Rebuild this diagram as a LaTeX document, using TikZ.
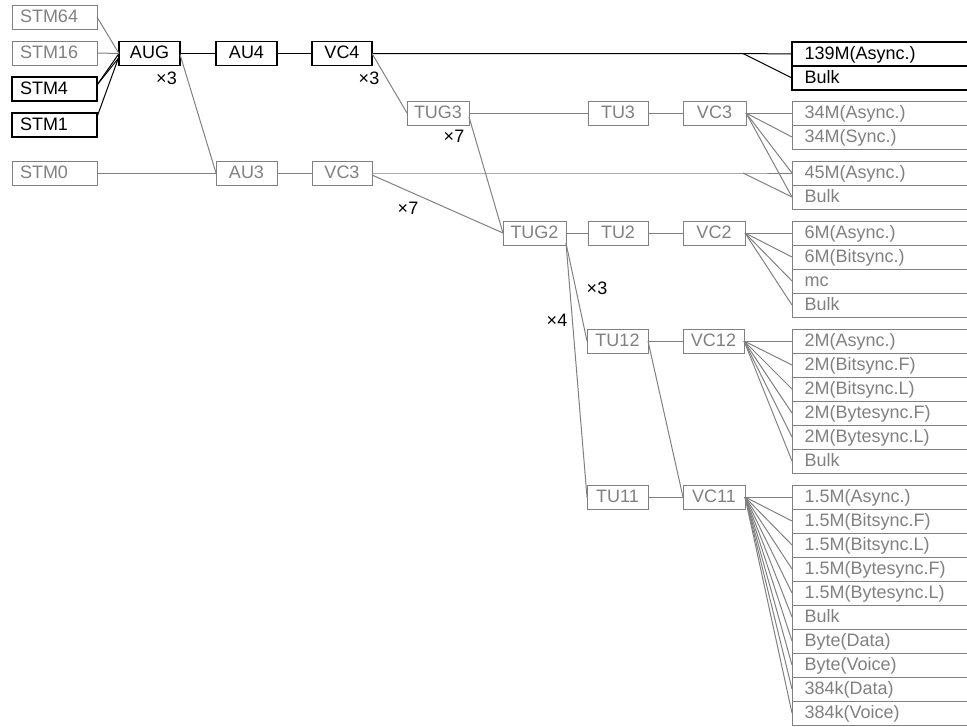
\documentclass[tikz,border=0pt]{standalone}
\usepackage{fontspec}
\setmainfont{Liberation Sans}
\definecolor{gcol}{RGB}{128,128,128}
\begin{document}
\begin{tikzpicture}[x=1pt,y=-1pt,
  font=\fontsize{18}{20}\selectfont,
  every node/.style={inner sep=0pt, outer sep=0pt},
  boxbase/.style={minimum height=24pt, text height=12.5pt, text depth=2pt, line width=1pt},
  gb/.style={boxbase, draw=gcol, text=gcol, minimum width=62pt},
  kb/.style={boxbase, draw=black, text=black, minimum width=62pt, line width=1.1pt},
  stmg/.style={boxbase, draw=gcol, text=gcol, text width=69pt, align=left, inner xsep=8pt},
  stmk/.style={stmg, draw=black, text=black, line width=1.1pt},
  rg/.style={boxbase, draw=gcol, text=gcol, anchor=north west, text width=170pt, align=left, inner xsep=12.5pt},
  rk/.style={rg, draw=black, text=black, line width=1.1pt},
  gl/.style={draw=gcol, line width=1pt},
  kl/.style={draw=black, line width=1pt},
  lab/.style={anchor=base, text=black}
]
\clip (0,0) rectangle (967,726);
% left column
\node[stmg] (STM64) at (54.5,17) {STM64};
\node[stmg] (STM16) at (54.5,53) {STM16};
\node[stmk] (STM4) at (54.5,89) {STM4};
\node[stmk] (STM1) at (54.5,125) {STM1};
\node[stmg] (STM0) at (54.5,173) {STM0};
% middle
\node[kb, minimum width=61pt] (AUG) at (149.5,53.5) {AUG};
\node[kb, minimum width=61pt] (AU4) at (246.5,53.5) {AU4};
\node[kb, minimum width=60pt] (VC4) at (342,53.5) {VC4};
\node[gb, minimum width=61pt] (AU3) at (246.5,173) {AU3};
\node[gb, minimum width=60pt] (VC3C) at (342,173) {VC3};
\node[gb] (TUG3) at (438,113) {TUG3};
\node[gb, minimum width=60pt] (TU3) at (618,113) {TU3};
\node[gb, minimum width=63pt] (VC3B) at (714.5,113) {VC3};
\node[gb, minimum width=63pt] (TUG2) at (534.5,233) {TUG2};
\node[gb, minimum width=60pt] (TU2) at (618,233) {TU2};
\node[gb] (VC2) at (714,233) {VC2};
\node[gb, minimum width=61pt] (TU12) at (617.5,341) {TU12};
\node[gb, minimum width=61pt] (VC12) at (713.5,341) {VC12};
\node[gb, minimum width=61pt] (TU11) at (617.5,497) {TU11};
\node[gb] (VC11) at (714,497) {VC11};
% right column
\node[rk] (r1a) at (792,42) {139M(Async.)};
\node[rk] (r1b) at (792,66) {Bulk};
\node[rg] (r2a) at (792,101) {34M(Async.)};
\node[rg] (r2b) at (792,125) {34M(Sync.)};
\node[rg] (r3a) at (792,161) {45M(Async.)};
\node[rg] (r3b) at (792,185) {Bulk};
\node[rg] (r4a) at (792,221) {6M(Async.)};
\node[rg] (r4b) at (792,245) {6M(Bitsync.)};
\node[rg] (r4c) at (792,269) {mc};
\node[rg] (r4d) at (792,293) {Bulk};
\node[rg] (r5a) at (792,329) {2M(Async.)};
\node[rg] (r5b) at (792,353) {2M(Bitsync.F)};
\node[rg] (r5c) at (792,377) {2M(Bitsync.L)};
\node[rg] (r5d) at (792,401) {2M(Bytesync.F)};
\node[rg] (r5e) at (792,425) {2M(Bytesync.L)};
\node[rg] (r5f) at (792,449) {Bulk};
\node[rg] (r6a) at (792,485) {1.5M(Async.)};
\node[rg] (r6b) at (792,509) {1.5M(Bitsync.F)};
\node[rg] (r6c) at (792,533) {1.5M(Bitsync.L)};
\node[rg] (r6d) at (792,557) {1.5M(Bytesync.F)};
\node[rg] (r6e) at (792,581) {1.5M(Bytesync.L)};
\node[rg] (r6f) at (792,605) {Bulk};
\node[rg] (r6g) at (792,629) {Byte(Data)};
\node[rg] (r6h) at (792,653) {Byte(Voice)};
\node[rg] (r6i) at (792,677) {384k(Data)};
\node[rg] (r6j) at (792,701) {384k(Voice)};
% multiplicity labels
\node[lab] (m1) at (166.5,84.5) {×3};
\node[lab] (m2) at (369,84.5) {×3};
\node[lab] (m3) at (454,142.7) {×7};
\node[lab] (m4) at (408,214) {×7};
\node[lab] (m5) at (597,294.3) {×3};
\node[lab] (m6) at (557,326.7) {×4};
% split points
\coordinate (s1) at (743,53.5);
\coordinate (s2) at (743,173);
% black connectors
\draw[kl] ([yshift=4pt]STM4.east) -- (AUG.west);
\draw[kl] ([yshift=4pt]STM4.east) -- ([yshift=-4pt]AUG.west);
\draw[kl] ([yshift=8pt]STM1.east) -- ([yshift=-3pt]AUG.west);
\draw[kl] (AUG.east) -- (AU4.west);
\draw[kl] (AU4.east) -- (VC4.west);
\draw[kl] (VC4.east) -- (s1) -- (r1a.west);
\draw[kl] (s1) -- (r1b.west);
% grey connectors
\draw[gl] (STM64.east) -- (AUG.west);
\draw[gl] (STM16.east) -- (AUG.west);
\draw[gl] ([yshift=-1pt]AUG.east) -- (AU3.west);
\draw[gl] (STM0.east) -- (AU3.west);
\draw[gl] (AU3.east) -- (VC3C.west);
\draw[gl] (VC3C.east) -- (s2) -- (r3a.west);
\draw[gl] (s2) -- (r3b.west);
\draw[gl] ([yshift=-2pt]VC3C.east) -- (TUG2.west);
\draw[gl] (VC4.east) -- (TUG3.west);
\draw[gl] (TUG3.east) -- (TU3.west);
\draw[gl] ([yshift=-4pt]TUG3.east) -- (TUG2.west);
\draw[gl] (TU3.east) -- (VC3B.west);
\foreach \t in {r2a,r2b,r3a,r3b} \draw[gl] (VC3B.east) -- (\t.west);
\draw[gl] (TUG2.east) -- (TU2.west);
\draw[gl] (TU2.east) -- (VC2.west);
\foreach \t in {r4a,r4b,r4c,r4d} \draw[gl] (VC2.east) -- (\t.west);
\draw[gl] ([yshift=2pt]TUG2.south east) -- (TU12.west);
\draw[gl] ([yshift=2pt]TUG2.south east) -- (TU11.west);
\draw[gl] (TU12.east) -- (VC12.west);
\draw[gl] (TU12.east) -- (VC11.west);
\draw[gl] (TU11.east) -- (VC11.west);
\foreach \t in {r5a,r5b,r5c,r5d,r5e,r5f} \draw[gl] (VC12.east) -- (\t.west);
\foreach \t in {r6a,r6b,r6c,r6d,r6e,r6f,r6g,r6h,r6i,r6j} \draw[gl] (VC11.east) -- (\t.west);
\end{tikzpicture}
\end{document}
